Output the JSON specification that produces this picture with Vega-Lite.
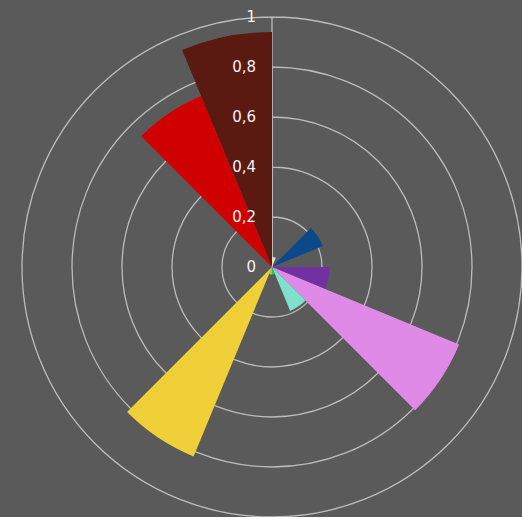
{
  "$schema": "https://vega.github.io/schema/vega-lite/v6.json",
  "width": 500,
  "height": 500,
  "autosize": {"type": "none"},
  "padding": {"left": 22, "top": 17, "right": 0, "bottom": 0},
  "background": "#5a5a5a",
  "config": {"view": {"stroke": null}},
  "datasets": {
    "sectors": [
      {"a0": 0, "a1": 22.5, "v": 0.04, "c": "#dcdcdc"},
      {"a0": 45, "a1": 67.5, "v": 0.22, "c": "#0b4a8a"},
      {"a0": 90, "a1": 112.5, "v": 0.23, "c": "#7330a0"},
      {"a0": 112.5, "a1": 135, "v": 0.81, "c": "#e08ae8"},
      {"a0": 135, "a1": 157.5, "v": 0.19, "c": "#7fe0cc"},
      {"a0": 157.5, "a1": 180, "v": 0.03, "c": "#30c060"},
      {"a0": 180, "a1": 202.5, "v": 0.03, "c": "#a0d040"},
      {"a0": 202.5, "a1": 225, "v": 0.82, "c": "#f0d038"},
      {"a0": 315, "a1": 337.5, "v": 0.74, "c": "#d00000"},
      {"a0": 337.5, "a1": 360, "v": 0.94, "c": "#5a1a12"}
    ],
    "rings": [
      {"a0": 0, "a1": 360, "r": 0.2},
      {"a0": 0, "a1": 360, "r": 0.4},
      {"a0": 0, "a1": 360, "r": 0.6},
      {"a0": 0, "a1": 360, "r": 0.8},
      {"a0": 0, "a1": 360, "r": 1.0}
    ],
    "labels": [
      {"a0": 0, "r": 0, "lab": "0"},
      {"a0": 0, "r": 0.2, "lab": "0,2"},
      {"a0": 0, "r": 0.4, "lab": "0,4"},
      {"a0": 0, "r": 0.6, "lab": "0,6"},
      {"a0": 0, "r": 0.8, "lab": "0,8"},
      {"a0": 0, "r": 1.0, "lab": "1"}
    ]
  },
  "resolve": {"scale": {"theta": "shared", "radius": "shared"}},
  "layer": [
    {
      "data": {"name": "rings"},
      "mark": {"type": "arc", "filled": false, "stroke": "#bcbcbc", "strokeWidth": 1.3},
      "encoding": {
        "theta": {"field": "a0", "type": "quantitative", "stack": null, "scale": {"type": "linear", "domain": [0, 360], "range": [0, 6.283185]}},
        "theta2": {"field": "a1"},
        "radius": {"field": "r", "type": "quantitative", "scale": {"type": "linear", "domain": [0, 1], "range": [0, 250], "zero": true}}
      }
    },
    {
      "data": {"name": "sectors"},
      "mark": {"type": "arc"},
      "encoding": {
        "theta": {"field": "a0", "type": "quantitative", "stack": null},
        "theta2": {"field": "a1"},
        "radius": {"field": "v", "type": "quantitative"},
        "color": {"field": "c", "type": "nominal", "scale": null}
      }
    },
    {
      "data": {"name": "labels"},
      "mark": {"type": "text", "align": "right", "baseline": "middle", "dx": -16, "fontSize": 15, "font": "DejaVu Sans", "color": "#f2f2f2"},
      "encoding": {
        "theta": {"field": "a0", "type": "quantitative", "stack": null},
        "radius": {"field": "r", "type": "quantitative"},
        "text": {"field": "lab", "type": "nominal"}
      }
    }
  ]
}
